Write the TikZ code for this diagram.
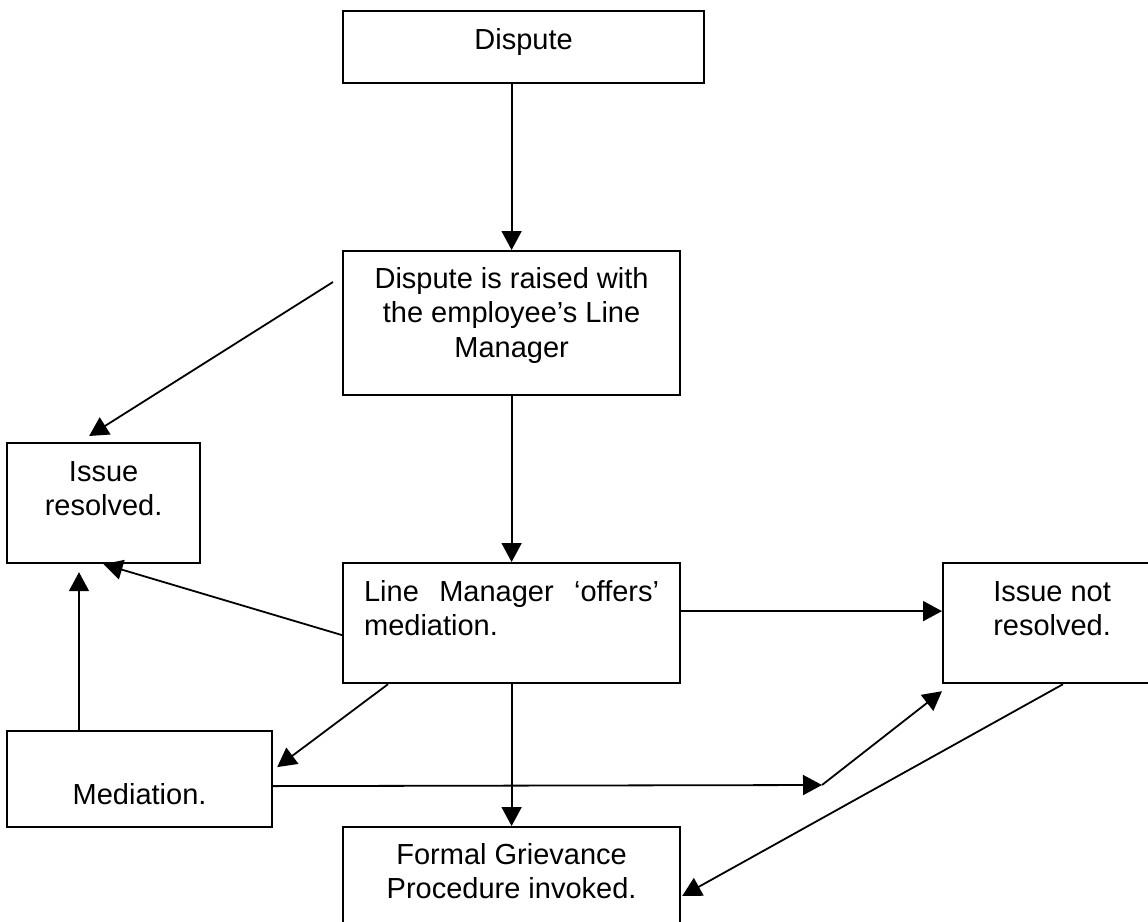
\documentclass[tikz,border=0pt]{standalone}
\usepackage{fontspec}
\setmainfont{Liberation Sans}
\usetikzlibrary{arrows.meta,calc,positioning}
% box text: height, width, first baseline, text
\newcommand{\boxtxt}[4]{\parbox[c][#1pt][t]{#2pt}{\centering\rule{0pt}{#3pt}#4}}

\begin{document}
\begin{tikzpicture}[x=1pt,y=-1pt,
  stage/.style={draw,line width=2.2pt,inner sep=0pt,anchor=north west,font=\fontsize{29}{34.5}\selectfont},
  flow/.style={line width=1.8pt,-{Triangle[length=19pt,width=20pt]}}]
\useasboundingbox (0,0) rectangle (1148,921);
\clip (0,0) rectangle (1148,921);

\node[stage] (dispute) at (342,10) {\boxtxt{72}{361}{38}{Dispute}};
\node[stage] (raised) at (342,250) {\boxtxt{144}{337}{37}{Dispute is raised with\\the employee’s Line\\Manager}};
\node[stage] (resolved) at (6,442) {\boxtxt{120}{193}{38}{Issue\\resolved.}};
\node[stage] (offers) at (342,562) {\parbox[c][120pt][t]{337pt}{\leftskip=21pt\rightskip=21pt\tolerance=10000\hyphenpenalty=10000\rule{0pt}{38pt}Line Manager ‘offers’ mediation.}};
\node[stage] (notres) at (942,562) {\boxtxt{120}{218}{38}{Issue not\\resolved.}};
\node[stage] (mediation) at (6,730) {\boxtxt{96}{265}{73}{Mediation.}};
\node[stage] (formal) at (342,826) {\boxtxt{120}{337}{37}{Formal Grievance\\Procedure invoked.}};
\coordinate (turn) at (822,785);

\draw[flow] (raised.north |- dispute.south) -- (raised.north);
\draw[flow] (raised.south) -- (offers.north);
\draw[flow] (offers.south) -- (formal.north);
\draw[flow] ($(raised.north west)+(-9,32)$) -- ($(resolved.north)+(-14.5,-6)$);
\draw[flow] ($(offers.west)+(0,12)$) -- (resolved.south);
\draw[flow,shorten >=8pt] ($(mediation.north west)+(73,0)$) coordinate (up) -- (up |- resolved.south);
\draw[flow] ($(offers.south west)+(46,0)$) -- ($(mediation.east)+(4,-12)$);
\draw[flow] ($(offers.east)+(0,-12)$) coordinate (right) -- (notres.west |- right);
\draw[flow] ($(mediation.east)+(0,7)$) -- (turn);
\draw[flow] (turn) -- ($(notres.south west)+(0,7)$);
\draw[flow] ($(notres.south west)+(121,0)$) -- ($(formal.north east)+(1,70)$);
\end{tikzpicture}
\end{document}
